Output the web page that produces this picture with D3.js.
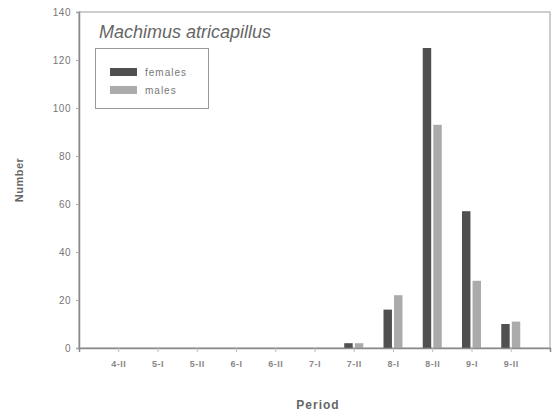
<!DOCTYPE html>
<html><head><meta charset="utf-8">
<script src="https://cdn.jsdelivr.net/npm/d3@7"></script>
<style>body{margin:0;background:#fff;}svg{display:block;font-family:Arial,"Liberation Sans",sans-serif;}</style>
</head><body><svg id="c" width="556" height="417"></svg>
<script>
const categories = ["4-II","5-I","5-II","6-I","6-II","7-I","7-II","8-I","8-II","9-I","9-II"];
const females = [0,0,0,0,0,0,2,16,125,57,10];
const males   = [0,0,0,0,0,0,2,22,93,28,11];
const yTicks = [0,20,40,60,80,100,120,140];
const seriesNames = ["females","males"];
const colors = {females:"#505050", males:"#ababab"};

const svg = d3.select("#c");
const L=79, R=550, T=12, B=348;
const x = d3.scalePoint().domain(categories).range([L,R]).padding(1);
const y = d3.scaleLinear().domain([0,140]).range([B,T]);
const xs = d3.scaleBand().domain(seriesNames).range([-9.5,9.5]).paddingInner(0.2);

// frame
svg.append("rect").attr("x",L).attr("y",T).attr("width",R-L).attr("height",B-T)
  .attr("fill","none").attr("stroke","#bdbdbd").attr("stroke-width",1.5);

// bars
const data = categories.map((c,i)=>({c, females:females[i], males:males[i]}));
seriesNames.forEach(s=>{
  svg.append("g").selectAll("rect").data(data).join("rect")
    .attr("x",d=>x(d.c)+xs(s)).attr("width",xs.bandwidth())
    .attr("y",d=>y(d[s])).attr("height",d=>B-y(d[s]))
    .attr("fill",colors[s]);
});

// y axis
const ya = svg.append("g").attr("transform",`translate(${L},0)`)
  .call(d3.axisLeft(y).tickValues(yTicks).tickSize(3).tickPadding(5));
ya.select(".domain").attr("stroke","#8a8a8a").attr("stroke-width",1.5);
ya.selectAll(".tick line").attr("stroke","#aaa");
ya.selectAll("text").attr("fill","#777").attr("font-size","10px").style("letter-spacing","0.5px");

// x axis
const xa = svg.append("g").attr("transform",`translate(0,${B})`)
  .call(d3.axisBottom(x).tickSize(4).tickPadding(9));
xa.select(".domain").attr("stroke","#8a8a8a").attr("stroke-width",1.5);
xa.selectAll(".tick line").attr("stroke","#bbb");
xa.selectAll("text").attr("fill","#888").attr("font-size","9px").attr("font-weight","bold").style("letter-spacing","0.5px");

// title
svg.append("text").attr("x",99).attr("y",38).attr("font-size","18px").attr("font-style","italic")
  .attr("fill","#666").text("Machimus atricapillus");

// legend
svg.append("rect").attr("x",95.5).attr("y",48.5).attr("width",113).attr("height",60)
  .attr("fill","#fff").attr("stroke","#999").attr("stroke-width",1);
seriesNames.forEach((s,i)=>{
  svg.append("rect").attr("x",110).attr("y",68+i*18).attr("width",27).attr("height",8).attr("fill",colors[s]);
  svg.append("text").attr("x",145).attr("y",76+i*18).attr("font-size","10px").attr("fill","#777")
    .style("letter-spacing","1px").text(s);
});

// axis titles
svg.append("text").attr("x",318).attr("y",409).attr("text-anchor","middle").attr("font-size","12px")
  .attr("font-weight","bold").attr("fill","#666").style("letter-spacing","1px").text("Period");
svg.append("text").attr("transform","translate(23,180) rotate(-90)").attr("text-anchor","middle")
  .attr("font-size","11px").attr("font-weight","bold").attr("fill","#666").style("letter-spacing","0.5px").text("Number");
</script></body></html>
